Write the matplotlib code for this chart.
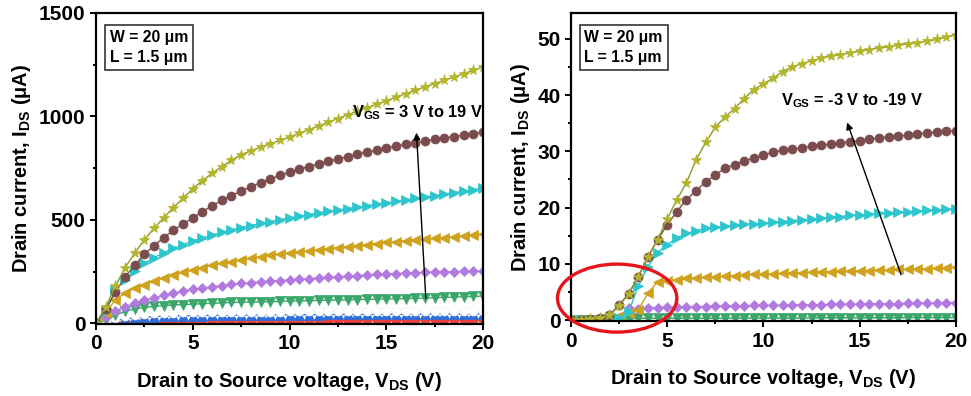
import numpy as np
import matplotlib
matplotlib.use('Agg')
import matplotlib.pyplot as plt
from matplotlib.patches import Ellipse
from matplotlib.ticker import MultipleLocator

plt.rcParams['font.family'] = ['Liberation Sans', 'DejaVu Sans']
plt.rcParams['font.weight'] = 'bold'
plt.rcParams['mathtext.fontset'] = 'custom'
plt.rcParams['mathtext.rm'] = 'Liberation Sans:bold'
plt.rcParams['mathtext.bf'] = 'Liberation Sans:bold'
plt.rcParams['mathtext.default'] = 'bf'

# V_DS sweep, 0 to 20 V in 0.5 V steps
vds = np.arange(0, 20.5, 0.5)

# n-type (left panel), uA, V_GS = 3 V ... 19 V
red_L = [0, 2, 4, 5, 6, 7, 8, 8, 9, 9,
         10, 10, 10, 11, 11, 11, 11, 12, 12, 12,
         12, 12, 13, 13, 13, 13, 13, 13, 14, 14,
         14, 14, 14, 14, 14, 15, 15, 15, 15, 15, 15]
blue_L = [0, 5, 15, 22, 27, 31, 33, 35, 36, 37,
          38, 38, 39, 39, 40, 40, 40, 41, 41, 41,
          42, 42, 42, 42, 43, 43, 43, 43, 43, 44,
          44, 44, 44, 44, 45, 45, 45, 45, 45, 45, 46]
white_L = [0, 10, 25, 35, 42, 46, 49, 51, 52, 53,
           54, 54, 55, 55, 56, 56, 56, 57, 57, 57,
           58, 58, 58, 58, 59, 59, 59, 59, 60, 60,
           60, 60, 60, 61, 61, 61, 61, 62, 62, 62, 62]
green_L = [0, 15, 40, 58, 70, 77, 82, 86, 89, 91,
           93, 95, 97, 99, 101, 102, 103, 104, 105, 106,
           108, 109, 110, 111, 112, 113, 114, 115, 116, 117,
           118, 119, 120, 121, 122, 124, 126, 127, 129, 130, 132]
purple_L = [0, 30, 60, 80, 98, 112, 124, 135, 145, 155,
            164, 170, 177, 183, 188, 193, 197, 201, 204, 207,
            210, 213, 216, 219, 222, 225, 228, 231, 234, 237,
            239, 241, 243, 245, 247, 248, 249, 250, 251, 252, 253]
gold_L = [0, 50, 115, 145, 170, 186, 203, 218, 232, 246,
          260, 270, 280, 290, 299, 307, 315, 322, 329, 335,
          341, 346, 351, 356, 361, 366, 371, 376, 381, 386,
          391, 395, 399, 403, 407, 411, 415, 419, 423, 427, 431]
cyan_L = [0, 60, 160, 210, 255, 290, 318, 342, 362, 381,
          398, 413, 427, 440, 452, 463, 473, 483, 492, 501,
          510, 518, 526, 534, 541, 548, 555, 562, 569, 576,
          583, 590, 597, 604, 611, 618, 625, 632, 639, 646, 653]
brown_L = [0, 70, 150, 225, 280, 335, 375, 415, 450, 480,
           510, 540, 568, 594, 618, 640, 660, 680, 698, 715,
           730, 745, 758, 771, 783, 795, 806, 817, 827, 837,
           847, 856, 865, 873, 881, 889, 896, 903, 910, 917, 924]
olive_L = [0, 80, 180, 270, 340, 405, 460, 510, 560, 605,
           650, 690, 725, 758, 788, 815, 834, 852, 868, 884,
           900, 918, 936, 954, 972, 990, 1008, 1025, 1042, 1059,
           1076, 1093, 1110, 1127, 1143, 1159, 1175, 1191, 1207, 1223, 1240]

# p-type (right panel), uA, V_GS = -3 V ... -19 V
red_R = [0] * 5 + [0.02] * 36
blue_R = [0] * 5 + [0.05] * 36
white_R = [0] * 5 + [0.08] * 36
green_R = [0, 0, 0, 0, 0, 0.1, 0.2, 0.3, 0.3, 0.3,
           0.3, 0.3, 0.3, 0.3, 0.3, 0.3, 0.3, 0.35, 0.35, 0.35,
           0.35, 0.35, 0.35, 0.35, 0.35, 0.4, 0.4, 0.4, 0.4, 0.4,
           0.4, 0.4, 0.4, 0.4, 0.4, 0.45, 0.45, 0.45, 0.45, 0.45, 0.45]
purple_R = [0, 0, 0, 0, 0.1, 0.3, 2.1, 2.0, 2.2, 2.2,
            2.3, 2.3, 2.4, 2.4, 2.4, 2.5, 2.5, 2.5, 2.5, 2.6,
            2.6, 2.6, 2.6, 2.7, 2.7, 2.7, 2.7, 2.8, 2.8, 2.8,
            2.8, 2.9, 2.9, 2.9, 2.9, 3.0, 3.0, 3.0, 3.0, 3.1, 3.1]
gold_R = [0, 0, 0, 0, 0.3, 0.8, 1.2, 1.8, 4.8, 6.8,
          7.0, 7.2, 7.4, 7.5, 7.6, 7.7, 7.8, 7.9, 8.0, 8.1,
          8.2, 8.2, 8.3, 8.4, 8.4, 8.5, 8.6, 8.6, 8.7, 8.7,
          8.8, 8.8, 8.9, 8.9, 9.0, 9.0, 9.1, 9.1, 9.2, 9.3, 9.4]
cyan_R = [0, 0, 0, 0, 0.1, 0.4, 1.5, 6.0, 9.5, 12.0,
          13.4, 14.6, 15.4, 15.9, 16.3, 16.5, 16.7, 16.9, 17.0, 17.1,
          17.2, 17.4, 17.5, 17.7, 17.8, 18.0, 18.1, 18.3, 18.4, 18.6,
          18.7, 18.8, 19.0, 19.1, 19.2, 19.3, 19.4, 19.5, 19.6, 19.7, 19.8]
brown_R = [0, 0.05, 0.1, 0.3, 0.9, 2.7, 4.7, 7.7, 11.2, 14.3,
           16.9, 19.3, 21.4, 23.0, 24.6, 25.8, 27.0, 27.6, 28.3, 28.8,
           29.4, 29.8, 30.2, 30.4, 30.6, 30.9, 31.1, 31.3, 31.5, 31.7,
           31.9, 32.2, 32.4, 32.6, 32.7, 32.9, 33.1, 33.3, 33.4, 33.6, 33.7]
olive_R = [0, 0.05, 0.1, 0.3, 0.9, 2.5, 4.7, 7.7, 11.2, 14.3,
           18.0, 21.4, 24.4, 28.5, 31.6, 34.3, 36.1, 37.6, 39.4, 41.0,
           42.0, 43.0, 44.2, 45.0, 45.6, 46.1, 46.6, 46.9, 47.2, 47.5,
           47.8, 48.1, 48.4, 48.6, 48.9, 49.1, 49.3, 49.6, 49.9, 50.3, 50.7]

# marker, face colour, line colour for each V_GS step (lowest first)
styles = [('o', '#e8403a', '#e8403a'),
          ('^', '#2a6fdc', '#2a6fdc'),
          ('o', 'white', 'white'),
          ('v', '#3aa66a', '#3aa66a'),
          ('D', '#b27ae0', '#b27ae0'),
          ('<', '#cfa21e', '#cfa21e'),
          ('>', '#2cc6cc', '#2cc6cc'),
          ('o', '#7a4c4e', '#7a4c4e'),
          ('*', '#b3b52c', '#8c9a2a')]

left_series = [red_L, blue_L, white_L, green_L, purple_L, gold_L, cyan_L, brown_L, olive_L]
right_series = [red_R, blue_R, white_R, green_R, purple_R, gold_R, cyan_R, brown_R, olive_R]

fig = plt.figure(figsize=(9.71, 3.96), dpi=100)
axL = fig.add_axes([0.0989, 0.1818, 0.3986, 0.7854])
axR = fig.add_axes([0.588, 0.189, 0.3965, 0.778])


def draw(ax, series):
    for (m, fc, lc), ys in zip(styles, series):
        ms = 6.5
        if m == '*':
            ms = 8
        if m == 'D':
            ms = 5.2
        ax.plot(vds, ys, color=lc, lw=1.0, marker=m, ms=ms,
                mfc=fc, mec=fc if fc != 'white' else '#f2f2f2', mew=0.5)


def style_axes(ax):
    for s in ax.spines.values():
        s.set_linewidth(1.6)
    ax.tick_params(which='both', direction='out', top=False, right=False,
                   width=1.4, labelsize=15)
    ax.tick_params(which='major', length=4)
    ax.tick_params(which='minor', length=2.5)
    ax.set_xlim(0, 20)
    ax.xaxis.set_major_locator(MultipleLocator(5))
    ax.xaxis.set_minor_locator(MultipleLocator(2.5))
    for lab in ax.get_xticklabels() + ax.get_yticklabels():
        lab.set_fontweight('bold')
    ax.set_xlabel('Drain to Source voltage, V$_{DS}$ (V)', fontsize=14.6,
                  fontweight='bold', labelpad=12)
    ax.set_ylabel('Drain current, I$_{DS}$ (\u03bcA)', fontsize=14.4,
                  fontweight='bold', labelpad=4)
    ax.text(0.035, 0.945, 'W = 20 \u03bcm\nL = 1.5 \u03bcm', transform=ax.transAxes,
            ha='left', va='top', fontsize=11.3, fontweight='bold', linespacing=1.45,
            bbox=dict(boxstyle='square,pad=0.3', fc='white', ec='#333333', lw=1.2))


# left panel
draw(axL, left_series)
style_axes(axL)
axL.set_ylim(-3, 1500)
axL.yaxis.set_major_locator(MultipleLocator(500))
axL.yaxis.set_minor_locator(MultipleLocator(250))
axL.annotate('', xy=(16.55, 935), xytext=(17.05, 107),
             arrowprops=dict(arrowstyle='-|>', color='black', lw=1.0,
                             mutation_scale=10))
axL.text(16.6, 1020, 'V$_{GS}$ = 3 V to 19 V', ha='center', va='center',
         fontsize=11.8, fontweight='bold')

# right panel
draw(axR, right_series)
style_axes(axR)
axR.set_ylim(-0.2, 54.6)
axR.yaxis.set_major_locator(MultipleLocator(10))
axR.yaxis.set_minor_locator(MultipleLocator(5))
axR.annotate('', xy=(14.3, 35.6), xytext=(17.2, 7.6),
             arrowprops=dict(arrowstyle='-|>', color='black', lw=1.0,
                             mutation_scale=10))
axR.text(14.6, 39.1, 'V$_{GS}$ = -3 V to -19 V', ha='center', va='center',
         fontsize=11.8, fontweight='bold')
axR.add_patch(Ellipse((2.4, 3.9), 6.2, 12.1, fill=False, ec='#e8141b',
                      lw=2.4, clip_on=False, zorder=5))

fig.savefig('out.png', dpi=100)
